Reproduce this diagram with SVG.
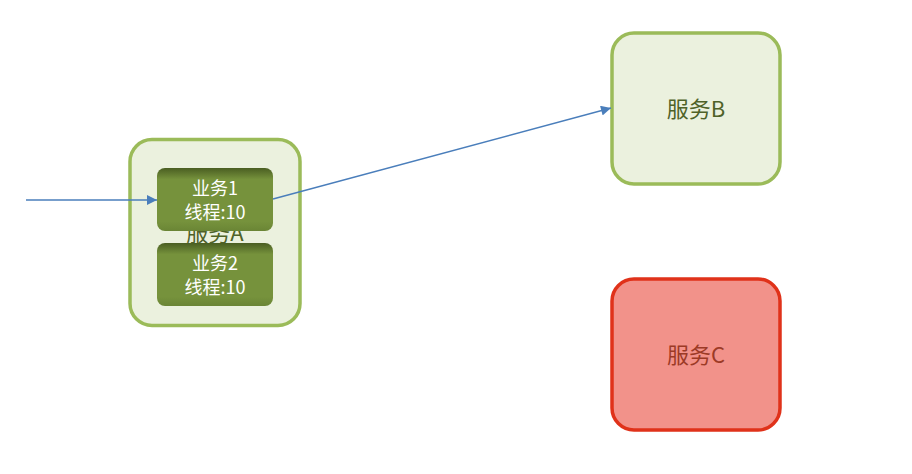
<svg xmlns="http://www.w3.org/2000/svg" width="912" height="474" viewBox="0 0 912 474">
<style>
.svc{fill:#EBF1DE;stroke:#9BBB59;stroke-width:3.5}
.svcC{fill:#F2928A;stroke:#E0321A;stroke-width:3.5}
.biz{fill:url(#bizg)}
.t{font-family:"Noto Sans CJK SC","Liberation Sans",sans-serif;text-anchor:middle}
.tsvc{font-size:22px;fill:#4F6228}
.tc{font-size:22px;fill:#9C3A26}
.tb{font-size:18px;fill:#FFFFFF}
.conn{stroke:#4A7EBB;stroke-width:1.5;fill:none;marker-end:url(#arr)}
</style>
<defs>
<linearGradient id="bizg" x1="0" y1="0" x2="0" y2="1">
<stop offset="0" stop-color="#4A5E22"/>
<stop offset="0.18" stop-color="#76923C"/>
<stop offset="0.85" stop-color="#76923C"/>
<stop offset="1" stop-color="#6A8535"/>
</linearGradient>
<marker id="arr" viewBox="0 0 10 10" refX="10" refY="5" markerWidth="12" markerHeight="10" markerUnits="userSpaceOnUse" orient="auto">
<path d="M0,0 L10,5 L0,10 z" fill="#4A7EBB"/>
</marker>
</defs>
<g id="serviceA">
<rect class="svc" x="130" y="139.5" width="170" height="186" rx="22"/>
<text class="t tsvc" x="215" y="241">服务A</text>
</g>
<g id="biz1">
<rect class="biz" x="157" y="168" width="116" height="63" rx="8"/>
<text class="t tb" x="215" y="195">业务1</text>
<text class="t tb" x="215" y="219">线程:10</text>
</g>
<g id="biz2">
<rect class="biz" x="157" y="243" width="116" height="63" rx="8"/>
<text class="t tb" x="215" y="270">业务2</text>
<text class="t tb" x="215" y="294">线程:10</text>
</g>
<g id="serviceB">
<rect class="svc" x="612" y="33" width="168" height="151" rx="22"/>
<text class="t tsvc" x="696" y="117">服务B</text>
</g>
<g id="serviceC">
<rect class="svcC" x="612" y="279" width="168" height="151" rx="22"/>
<text class="t tc" x="696" y="363">服务C</text>
</g>
<g id="connectors">
<line class="conn" x1="26" y1="200" x2="157" y2="200"/>
<line class="conn" x1="273" y1="199" x2="611" y2="108"/>
</g>
</svg>
